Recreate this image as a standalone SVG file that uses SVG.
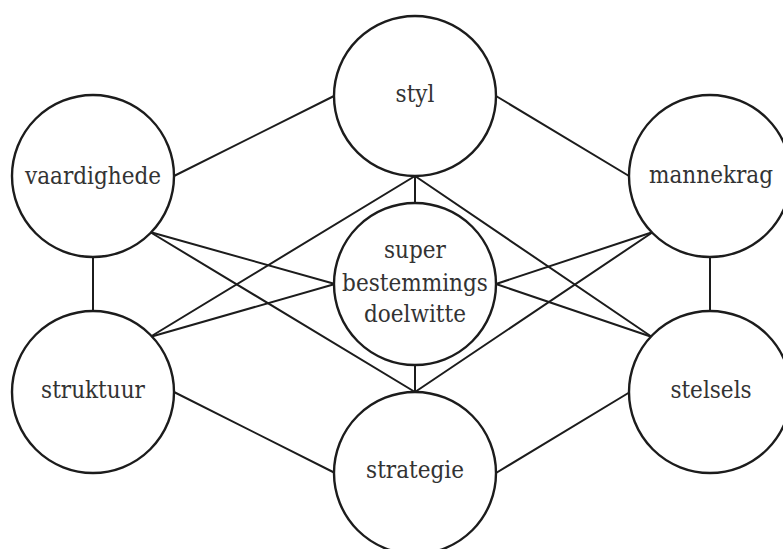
<svg xmlns="http://www.w3.org/2000/svg" width="783" height="549" viewBox="0 0 783 549">
  <style>
    .node ellipse { fill: #ffffff; stroke: #1c1c1c; stroke-width: 2.4; }
    .node text { font-family: 'DejaVu Serif Condensed', 'DejaVu Serif', serif; font-stretch: condensed; font-size: 24px; fill: #333333; text-anchor: middle; }
    #connectors line { stroke: #1c1c1c; stroke-width: 2; stroke-linecap: round; }
  </style>
  <rect width="783" height="549" fill="#ffffff"/>

  <!-- connectors between the seven elements -->
  <g id="connectors">
    <!-- outer ring -->
    <line x1="174" y1="176" x2="334" y2="96"/>
    <line x1="496" y1="96" x2="629" y2="176"/>
    <line x1="93" y1="257" x2="93" y2="311"/>
    <line x1="710" y1="257" x2="710" y2="311"/>
    <line x1="174" y1="392" x2="335" y2="473"/>
    <line x1="496" y1="473" x2="630" y2="392"/>
    <!-- styl / strategie to the hub -->
    <line x1="415" y1="176" x2="415" y2="204"/>
    <line x1="415" y1="365" x2="415" y2="392"/>
    <!-- diagonals from styl and strategie -->
    <line x1="415" y1="176" x2="150" y2="337"/>
    <line x1="415" y1="176" x2="652" y2="337"/>
    <line x1="415" y1="392" x2="150" y2="232"/>
    <line x1="415" y1="392" x2="653" y2="232"/>
    <!-- side nodes to the hub -->
    <line x1="150" y1="232" x2="335" y2="284"/>
    <line x1="150" y1="337" x2="335" y2="284"/>
    <line x1="653" y1="232" x2="496" y2="284"/>
    <line x1="652" y1="337" x2="496" y2="284"/>
  </g>

  <g id="styl" class="node">
    <ellipse cx="415" cy="96" rx="81" ry="80"/>
    <text x="415" y="102">styl</text>
  </g>
  <g id="vaardighede" class="node">
    <ellipse cx="93" cy="176" rx="81" ry="81"/>
    <text x="93" y="184">vaardighede</text>
  </g>
  <g id="mannekrag" class="node">
    <ellipse cx="710" cy="176" rx="81" ry="81"/>
    <text x="711" y="183">mannekrag</text>
  </g>
  <g id="doelwitte" class="node">
    <ellipse cx="415" cy="284" rx="81" ry="81"/>
    <text x="415" y="258">super</text>
    <text x="415" y="291">bestemmings</text>
    <text x="415" y="322">doelwitte</text>
  </g>
  <g id="struktuur" class="node">
    <ellipse cx="93" cy="392" rx="81" ry="81"/>
    <text x="93" y="398">struktuur</text>
  </g>
  <g id="stelsels" class="node">
    <ellipse cx="710" cy="392" rx="81" ry="81"/>
    <text x="711" y="398">stelsels</text>
  </g>
  <g id="strategie" class="node">
    <ellipse cx="415" cy="473" rx="81" ry="81"/>
    <text x="415" y="478">strategie</text>
  </g>
</svg>
